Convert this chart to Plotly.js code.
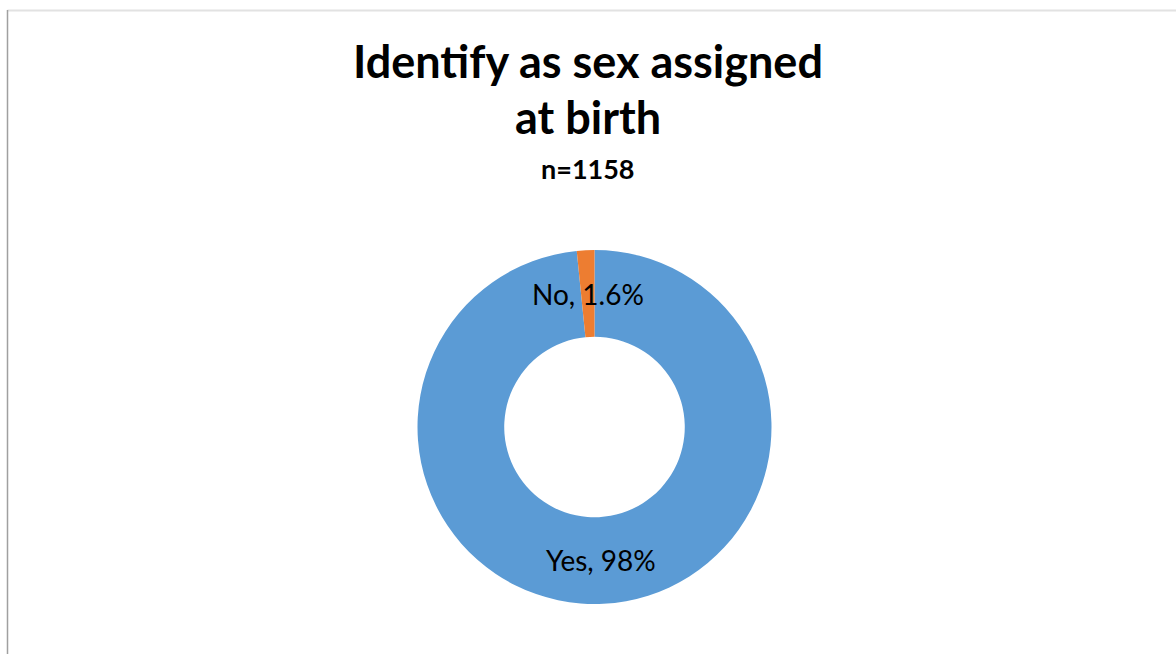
<!DOCTYPE html>
<html>
<head>
<meta charset="utf-8">
<script src="https://cdn.plot.ly/plotly-3.0.1.min.js"></script>
<style>html,body{margin:0;padding:0;background:#fff;}#chart{width:1176px;height:654px;}</style>
</head>
<body>
<div id="chart"></div>
<script>
const categories = ["Yes", "No"];
const values = [98.4, 1.6];
const labelTexts = ["Yes, 98%", "No, 1.6%"];
const colors = ["#5B9BD5", "#ED7D31"];
const titleLines = ["Identify as sex assigned", "at birth"];
const subtitleText = "n=1158";

const W = 1176, H = 654;
const cx = 594.5, cy = 427, R = 177, hole = 0.51;
const FONT = "Lato, 'Open Sans', sans-serif";
const dom = {
  x: [(cx - R) / W, (cx + R) / W],
  y: [1 - (cy + R) / H, 1 - (cy - R) / H]
};

// data labels at each slice's mid angle, mid-ring radius (clockwise from top)
const total = values.reduce((a, b) => a + b, 0);
const rMid = R * (1 + hole) / 2;
let cum = 0;
const labelAnns = values.map((v, i) => {
  const mid = (cum + v / 2) / total;
  cum += v;
  const ang = mid * 2 * Math.PI;
  const lx = cx + rMid * Math.sin(ang);
  const ly = cy - rMid * Math.cos(ang);
  return {
    text: labelTexts[i],
    xref: "paper", yref: "paper",
    x: lx / W, y: 1 - ly / H,
    xanchor: "center", yanchor: "middle",
    showarrow: false,
    font: { family: FONT, size: 28, color: "#000000" }
  };
});

const trace = {
  type: "pie",
  labels: categories,
  values: values,
  hole: hole,
  sort: false,
  direction: "clockwise",
  rotation: 0,
  domain: dom,
  marker: { colors: colors, line: { color: "#ffffff", width: 0 } },
  textinfo: "none",
  hoverinfo: "label+percent",
  showlegend: false
};

const titleY = [61, 117];
const titleAnns = titleLines.map((t, i) => ({
  text: "<b>" + t + "</b>",
  xref: "paper", yref: "paper",
  x: 0.5, y: 1 - titleY[i] / H,
  xanchor: "center", yanchor: "middle",
  showarrow: false,
  font: { family: FONT, size: 45, color: "#000000" }
}));

const layout = {
  width: W, height: H,
  margin: { l: 0, r: 0, t: 0, b: 0 },
  paper_bgcolor: "#ffffff",
  showlegend: false,
  annotations: titleAnns.concat([
    {
      text: "<b>" + subtitleText + "</b>",
      xref: "paper", yref: "paper",
      x: 0.5, y: 1 - 169 / H,
      xanchor: "center", yanchor: "middle",
      showarrow: false,
      font: { family: FONT, size: 27, color: "#000000" }
    }
  ]).concat(labelAnns),
  shapes: [
    { type: "line", xref: "paper", yref: "paper", x0: 7.5 / W, x1: 1, y0: 1 - 10.5 / H, y1: 1 - 10.5 / H,
      line: { color: "#e2e2e2", width: 2 } },
    { type: "line", xref: "paper", yref: "paper", x0: 7.5 / W, x1: 7.5 / W, y0: 0, y1: 1 - 10 / H,
      line: { color: "#a0a0a0", width: 1.5 } }
  ]
};

Plotly.newPlot("chart", [trace], layout, { displayModeBar: false, staticPlot: true });
</script>
</body>
</html>
